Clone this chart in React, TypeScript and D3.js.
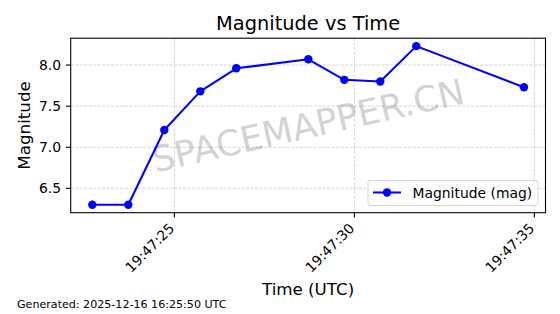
import React from "react";
import * as d3 from "d3";

const times = [
  "19:47:22.72", "19:47:23.72", "19:47:24.72", "19:47:25.72", "19:47:26.72",
  "19:47:28.72", "19:47:29.72", "19:47:30.72", "19:47:31.72", "19:47:34.71",
];
const magnitudes = [6.3, 6.3, 7.21, 7.68, 7.96, 8.07, 7.82, 7.8, 8.23, 7.73];
const yTicks = [6.5, 7.0, 7.5, 8.0];
const xTickLabels = ["19:47:25", "19:47:30", "19:47:35"];
const titleText = "Magnitude vs Time";
const xLabel = "Time (UTC)";
const yLabel = "Magnitude";
const legendLabel = "Magnitude (mag)";
const footerText = "Generated: 2025-12-16 16:25:50 UTC";
const watermark = "SPACEMAPPER.CN";

const parseT = (s: string) => {
  const [h, m, sec] = s.split(":");
  const secs = parseFloat(sec);
  const whole = Math.floor(secs);
  const ms = Math.round((secs - whole) * 1000);
  return new Date(Date.UTC(2025, 11, 16, +h, +m, whole, ms));
};

const W = 560;
const H = 314;
const L = 70.7;
const R = 545.5;
const T = 38.2;
const B = 212.7;
const FONT = "DejaVu Sans, sans-serif";

export default function App() {
  const dates = times.map(parseT);
  const [t0, t1] = d3.extent(dates) as [Date, Date];
  const span = +t1 - +t0;
  const x = d3
    .scaleTime()
    .domain([new Date(+t0 - span * 0.05), new Date(+t1 + span * 0.05)])
    .range([L, R]);
  const [m0, m1] = d3.extent(magnitudes) as [number, number];
  const mspan = m1 - m0;
  const y = d3
    .scaleLinear()
    .domain([m0 - mspan * 0.05, m1 + mspan * 0.05])
    .range([B, T]);

  const xTicks = xTickLabels.map(parseT);
  const pts = dates.map((d, i) => [x(d), y(magnitudes[i])] as [number, number]);
  const line = d3.line()(pts) || "";
  const blue = "#0000ff";
  const grid = "#b0b0b0";
  const cx = (L + R) / 2;
  const cy = (T + B) / 2;

  return (
    <svg
      width={W}
      height={H}
      style={{ position: "absolute", left: 0, top: 0, background: "#fff" }}
      fontFamily={FONT}
    >
      <rect x={0} y={0} width={W} height={H} fill="#fff" />
      {/* grid */}
      {xTicks.map((t, i) => (
        <line key={"gx" + i} x1={x(t)} x2={x(t)} y1={T} y2={B} stroke={grid} strokeOpacity={0.7} strokeWidth={0.8} strokeDasharray="3,1.5" />
      ))}
      {yTicks.map((v, i) => (
        <line key={"gy" + i} x1={L} x2={R} y1={y(v)} y2={y(v)} stroke={grid} strokeOpacity={0.7} strokeWidth={0.8} strokeDasharray="3,1.5" />
      ))}
      {/* watermark */}
      <text
        x={cx}
        y={cy}
        transform={`rotate(-12.6 ${cx} ${cy})`}
        textAnchor="middle"
        dominantBaseline="central"
        fontSize={35.5}
        fill="#808080"
        fillOpacity={0.36}
      >
        {watermark}
      </text>
      {/* data */}
      <path d={line} fill="none" stroke={blue} strokeWidth={2.08} strokeLinejoin="round" />
      {pts.map((p, i) => (
        <circle key={"p" + i} cx={p[0]} cy={p[1]} r={4.2} fill={blue} />
      ))}
      {/* frame */}
      <rect x={L} y={T} width={R - L} height={B - T} fill="none" stroke="#000" strokeWidth={1.1} />
      {/* y ticks */}
      {yTicks.map((v, i) => (
        <g key={"yt" + i}>
          <line x1={L - 4.9} x2={L} y1={y(v)} y2={y(v)} stroke="#000" strokeWidth={1.1} />
          <text x={L - 9.7} y={y(v)} textAnchor="end" dominantBaseline="central" fontSize={13.9} fill="#000">
            {v.toFixed(1)}
          </text>
        </g>
      ))}
      {/* x ticks */}
      {xTicks.map((t, i) => {
        const px = x(t);
        const py = B + 16.5;
        return (
          <g key={"xt" + i}>
            <line x1={px} x2={px} y1={B} y2={B + 4.9} stroke="#000" strokeWidth={1.1} />
            <text x={px + 1} y={py} textAnchor="end" transform={`rotate(-45 ${px + 1} ${py})`} fontSize={13.9} fill="#000">
              {xTickLabels[i]}
            </text>
          </g>
        );
      })}
      {/* title */}
      <text x={cx} y={30} textAnchor="middle" fontSize={19.4} fill="#000">
        {titleText}
      </text>
      {/* axis labels */}
      <text x={cx} y={295} textAnchor="middle" fontSize={16.7} fill="#000">
        {xLabel}
      </text>
      <text x={30} y={cy} textAnchor="middle" transform={`rotate(-90 30 ${cy})`} fontSize={16.7} fill="#000">
        {yLabel}
      </text>
      {/* legend */}
      <rect x={368} y={180.5} width={170} height={25} rx={2.5} fill="#fff" fillOpacity={0.8} stroke="#d5d5d5" strokeWidth={1} />
      <line x1={373} x2={401} y1={192.5} y2={192.5} stroke={blue} strokeWidth={2.08} />
      <circle cx={387} cy={192.5} r={4.2} fill={blue} />
      <text x={412.5} y={197.5} fontSize={13.9} fill="#000">
        {legendLabel}
      </text>
      {/* footer */}
      <text x={17} y={308} fontSize={11.1} fill="#000">
        {footerText}
      </text>
    </svg>
  );
}
